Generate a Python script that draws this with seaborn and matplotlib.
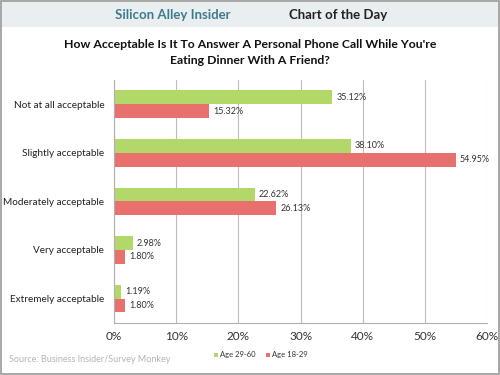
import numpy as np
import pandas as pd
import matplotlib.pyplot as plt
import seaborn as sns
from matplotlib.patches import Rectangle

# datos del grafico
categorias = ["Not at all acceptable", "Slightly acceptable", "Moderately acceptable",
              "Very acceptable", "Extremely acceptable"]
edad_29_60 = [35.12, 38.10, 22.62, 2.98, 1.19]
edad_18_29 = [15.32, 54.95, 26.13, 1.80, 1.80]
series = ["Age 29-60", "Age 18-29"]
colores = ["#b3d86a", "#e8706d"]
ticks_x = [0, 10, 20, 30, 40, 50, 60]

df = pd.DataFrame({
    "categoria": categorias * 2,
    "valor": edad_29_60 + edad_18_29,
    "serie": [series[0]] * len(categorias) + [series[1]] * len(categorias),
})

sns.set_style("white")
plt.rcParams["font.family"] = ["Lato", "DejaVu Sans"]

fig = plt.figure(figsize=(5, 3.75), dpi=100)
ax = fig.add_axes([0.228, 0.139, 0.746, 0.648])

sns.barplot(data=df, x="valor", y="categoria", hue="serie", hue_order=series,
            order=categorias, palette=colores, orient="h", width=0.57,
            saturation=1, ax=ax, legend=False, edgecolor="none")

for cont in ax.containers:
    ax.bar_label(cont, labels=[f"{v:.2f}%" for v in cont.datavalues],
                 padding=3, fontsize=6.5, color="#333333")

ax.set_xlim(0, 60)
ax.set_xticks(ticks_x)
ax.set_xticklabels([f"{t}%" for t in ticks_x], fontsize=8.5, color="#333333")
ax.tick_params(axis="y", labelsize=7.2, colors="#222222", length=0, pad=7)
ax.tick_params(axis="x", length=0, pad=6)
ax.set_xlabel("")
ax.set_ylabel("")
ax.xaxis.grid(True, color="#bdbdbd", linewidth=0.8)
ax.set_axisbelow(True)
for s in ["top", "right"]:
    ax.spines[s].set_visible(False)
for s in ["left", "bottom"]:
    ax.spines[s].set_color("#b0b0b0")
    ax.spines[s].set_linewidth(0.8)

# marcas entre categorias en el eje y
ax.set_yticks(np.arange(-0.5, len(categorias), 1), minor=True)
ax.tick_params(axis="y", which="minor", length=3, color="#b0b0b0")

# encabezado
fig.patches.append(Rectangle((0, 1 - 27 / 375), 1, 27 / 375, transform=fig.transFigure,
                             facecolor="#e9eef1", edgecolor="none", zorder=0))
fig.patches.append(Rectangle((0.002, 0.003), 0.996, 0.994, transform=fig.transFigure,
                             facecolor="none", edgecolor="#9a9a9a", linewidth=1.2))
fig.text(0.345, 1 - 15 / 375, "Silicon Alley Insider", ha="center", va="center",
         fontsize=9.5, fontweight="bold", color="#3e7a8e")
fig.text(0.676, 1 - 15 / 375, "Chart of the Day", ha="center", va="center",
         fontsize=9.5, fontweight="bold", color="#222222")
icono = fig.add_axes([0.484, 1 - 25 / 375, 0.08, 20 / 375])
icono.plot([0, 1, 2, 3, 4, 5], [0.2, 0.6, 0.3, 0.7, 0.5, 1.0], color="#3e6f80", linewidth=1)
icono.set_facecolor("#dde5ea")
icono.set_xticks([])
icono.set_yticks([])
for s in icono.spines.values():
    s.set_visible(False)

fig.text(0.5, 1 - 44 / 375, "How Acceptable Is It To Answer A Personal Phone Call While You're",
         ha="center", va="center", fontsize=8.8, fontweight="bold", color="#111111")
fig.text(0.5, 1 - 61 / 375, "Eating Dinner With A Friend?",
         ha="center", va="center", fontsize=8.8, fontweight="bold", color="#111111")

# leyenda y fuente
fig.patches.append(Rectangle((0.428, 1 - 357 / 375), 0.008, 0.011, transform=fig.transFigure,
                             facecolor=colores[0], edgecolor="none"))
fig.text(0.44, 1 - 355 / 375, series[0], fontsize=5.5, va="center", color="#333333")
fig.patches.append(Rectangle((0.532, 1 - 357 / 375), 0.008, 0.011, transform=fig.transFigure,
                             facecolor=colores[1], edgecolor="none"))
fig.text(0.544, 1 - 355 / 375, series[1], fontsize=5.5, va="center", color="#333333")
fig.text(0.018, 1 - 360 / 375, "Source: Business Insider/Survey Monkey", fontsize=6.5,
         va="center", color="#b5b5b5")

fig.savefig("out.png", dpi=100)
